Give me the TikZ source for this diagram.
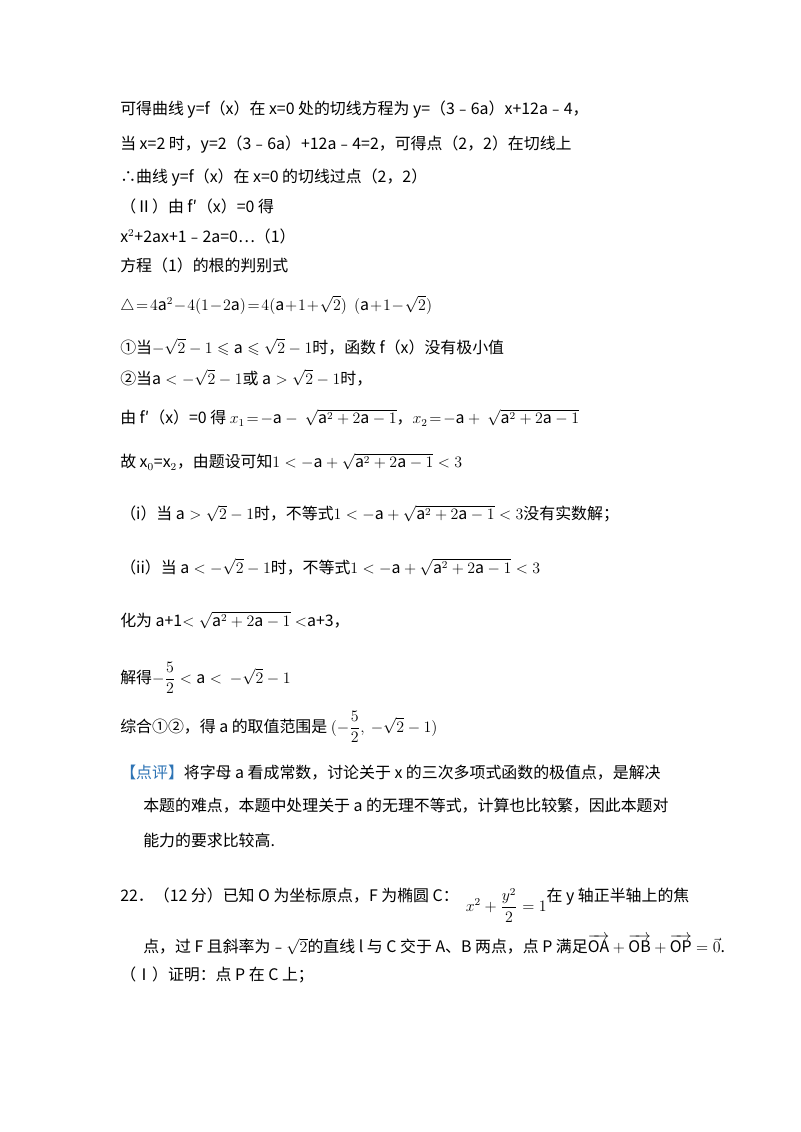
\documentclass[tikz,border=0pt]{standalone}
\usepackage{amsmath,amssymb}
\usepackage{fontspec}
\setmainfont{Noto Sans CJK SC}
\begin{document}
\begin{tikzpicture}[x=0.0265cm,y=-0.0265cm,
  ln/.style={anchor=west,inner sep=0pt,font=\fontsize{12}{14}\selectfont}]
\useasboundingbox (0,0) rectangle (800,1132);
\node[ln] (l1) at (120,110) {可得曲线 y=f（x）在 x=0 处的切线方程为 y=（3﹣6a）x+12a﹣4，};
\node[ln] (l2) at (120,145) {当 x=2 时，y=2（3﹣6a）+12a﹣4=2，可得点（2，2）在切线上};
\node[ln] (l3) at (120,178) {∴曲线 y=f（x）在 x=0 的切线过点（2，2）};
\node[ln] (l4) at (120,206) {（Ⅱ）由 f′（x）=0 得};
\node[ln] (l5) at (120,236) {x$^2$+2ax+1﹣2a=0…（1）};
\node[ln] (l6) at (120,265) {方程（1）的根的判别式};
\node[ln] (l7) at (120,305) {$\triangle\!=\!4\mathrm{a}^2\!-\!4(1\!-\!2\mathrm{a})\!=\!4(\mathrm{a}\!+\!1\!+\!\sqrt{2})\ \ (\mathrm{a}\!+\!1\!-\!\sqrt{2})$};
\node[ln] (l8) at (120,347) {①当$-\sqrt{2}-1\leqslant \mathrm{a}\leqslant\sqrt{2}-1$时，函数 f（x）没有极小值};
\node[ln] (l9) at (120,378) {②当$\mathrm{a}<-\sqrt{2}-1$或 $\mathrm{a}>\sqrt{2}-1$时，};
\node[ln] (l10) at (120,418) {由 f′（x）=0 得 $x_1\!=\!-\mathrm{a}-\ \sqrt{\mathrm{a}^2+2\mathrm{a}-1}$，$x_2\!=\!-\mathrm{a}+\ \sqrt{\mathrm{a}^2+2\mathrm{a}-1}$};
\node[ln] (l11) at (120,462) {故 x$_0$=x$_2$，由题设可知$1<-\mathrm{a}+\sqrt{\mathrm{a}^2+2\mathrm{a}-1}<3$};
\node[ln] (l12) at (120,514) {（i）当 $\mathrm{a}>\sqrt{2}-1$时，不等式$1<-\mathrm{a}+\sqrt{\mathrm{a}^2+2\mathrm{a}-1}<3$没有实数解；};
\node[ln] (l13) at (120,567) {（ii）当 $\mathrm{a}<-\sqrt{2}-1$时，不等式$1<-\mathrm{a}+\sqrt{\mathrm{a}^2+2\mathrm{a}-1}<3$};
\node[ln] (l14) at (120,620) {化为 a+1$<\sqrt{\mathrm{a}^2+2\mathrm{a}-1}<$a+3，};
\node[ln] (l15) at (120,678) {解得$-\dfrac{5}{2}<\mathrm{a}<\ -\sqrt{2}-1$};
\node[ln] (l16) at (120,727) {综合①②，得 a 的取值范围是 $(-\dfrac{5}{2},\ -\sqrt{2}-1)$};
\node[ln] (l17) at (120,773) {\textcolor[HTML]{2E74B5}{【点评】}将字母 a 看成常数，讨论关于 x 的三次多项式函数的极值点，是解决};
\node[ln] (l18) at (143,806) {本题的难点，本题中处理关于 a 的无理不等式，计算也比较繁，因此本题对};
\node[ln] (l19) at (143,840) {能力的要求比较高.};
\node[ln] (l20) at (120,905) {22．（12 分）已知 O 为坐标原点，F 为椭圆 C：\ \ \raisebox{-1.2ex}{$x^2+\dfrac{y^2}{2}=1$}在 y 轴正半轴上的焦};
\node[ln] (l21) at (143,945) {点，过 F 且斜率为﹣$\sqrt{2}$的直线 l 与 C 交于 A、B 两点，点 P 满足$\overrightarrow{\mathrm{OA}}+\overrightarrow{\mathrm{OB}}+\overrightarrow{\mathrm{OP}}=\vec{0}$.};
\node[ln] (l22) at (120,975) {（Ⅰ）证明：点 P 在 C 上；};
\end{tikzpicture}
\end{document}
